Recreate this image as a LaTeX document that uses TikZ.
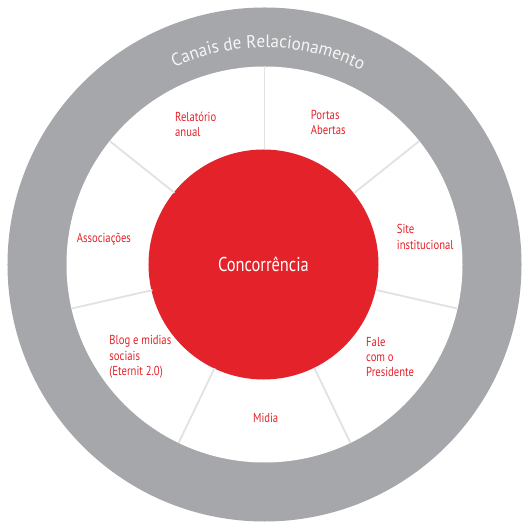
\documentclass[tikz,border=0pt]{standalone}
\usepackage{fontspec}
\setmainfont{PT Sans}[FakeStretch=0.82]
\newfontfamily\ringfont{PT Sans}[FakeStretch=0.95]
\usetikzlibrary{decorations.text}
\definecolor{cRed}{RGB}{228,34,41}
\definecolor{cRing}{RGB}{166,167,170}
\definecolor{cSep}{RGB}{226,226,226}
\definecolor{cRingText}{RGB}{246,246,246}
\tikzset{
  core/.style={
    circle, fill=cRed, minimum size=230pt, inner sep=0pt,
    text=white, font=\fontsize{20}{22}\selectfont,
  },
  channel/.style={align=left, anchor=north west, inner sep=0pt, text=cRed, font=\fontsize{13}{15.2}\selectfont},
  sep/.style={draw=cSep, line width=1.8pt},
}

\begin{document}
\begin{tikzpicture}[x=1pt,y=1pt]
\useasboundingbox (-264.5,-264.5) rectangle (264.5,264.5);

% ===== rings =====
\fill[cRing] (0,0) circle (257);
\fill[white] (0,0) circle (198);

% ===== centre =====
\node[core] (core) at (-1,0) {Concorrência};

% ===== separators between the seven channels =====
\foreach \k in {0,...,6}{
  \coordinate (rim\k) at ({90+\k*360/7}:198);
  \draw[sep] ({90+\k*360/7}:115) -- (rim\k);
}

% ===== ring title =====
\path[decorate, decoration={text along path, text align=center,
    text color=cRingText,
    text={|\ringfont\fontsize{18}{18}\selectfont|Canais de Relacionamento}}]
  (150:217) arc[start angle=150, end angle=28, radius=217];

% ===== channels =====
\node[channel] (relatorio) at (-89.5,152.5) {Relatório\\anual};
\node[channel] (portas) at (46.2,154.3) {Portas\\Abertas};
\node[channel] (site) at (132.2,40) {Site\\institucional};
\node[channel] (fale) at (101.5,-72.5) {Fale\\com o\\Presidente};
\node[channel, anchor=base] (midia) at (1.2,-158.2) {Midia};
\node[channel] (blog) at (-155.2,-71) {Blog e midias\\sociais\\(Eternit 2.0)};
\node[channel] (assoc) at (-187.8,31.6) {Associações};

\end{tikzpicture}
\end{document}
